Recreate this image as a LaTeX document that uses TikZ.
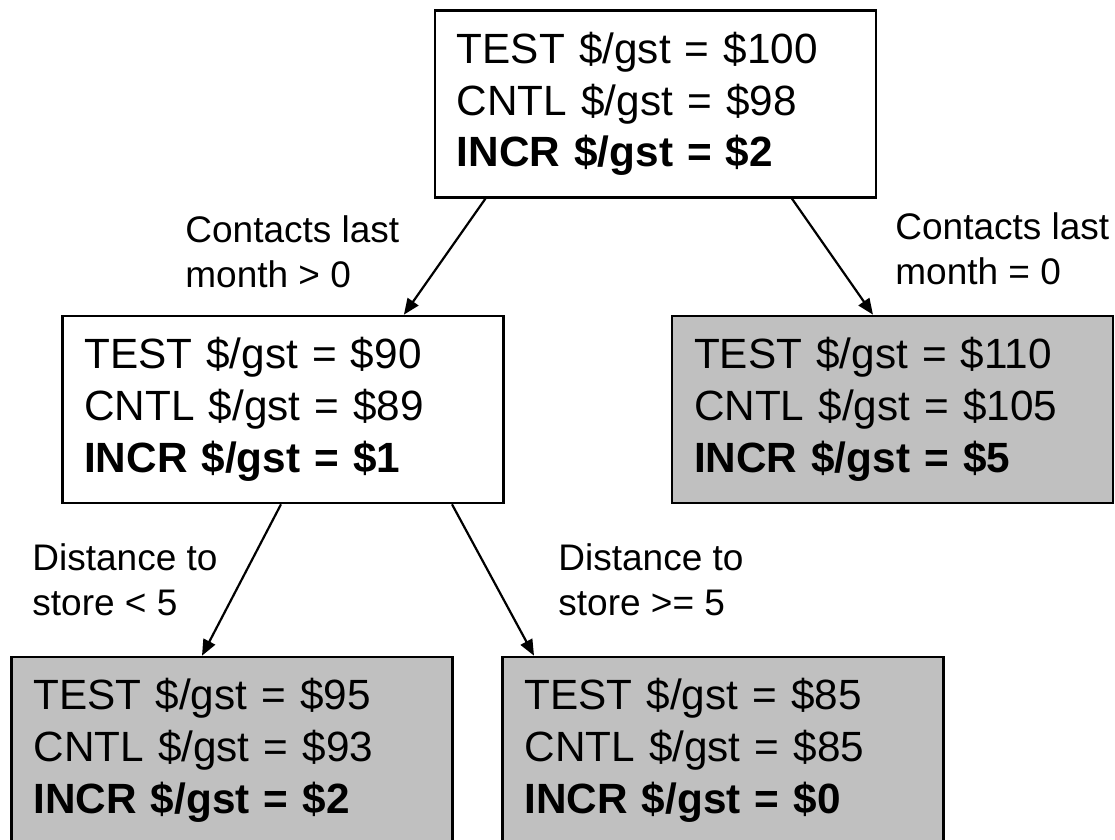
\documentclass[tikz,border=0pt]{standalone}
\usepackage{fontspec}
\setmainfont{Liberation Sans}
\usepackage{xcolor}
\usepackage{tikz}
\usetikzlibrary{arrows.meta,positioning,calc}
\definecolor{cInk}{HTML}{000000}
\definecolor{cLeaf}{HTML}{C0C0C0}
\tikzset{
  sbox/.style={draw=cInk,fill=#1,line width=1.3pt,minimum width=220.5pt,minimum height=93.5pt,text width=198.5pt,inner xsep=11pt,inner ysep=0pt,align=left,font=\fontsize{21.15}{25.85}\selectfont,text=cInk},
  sbox/.default=white,
  arr/.style={-{Triangle[length=8pt,width=6.5pt]},line width=1.1pt,color=cInk},
  lbl/.style={font=\fontsize{18.5}{22.5}\selectfont,align=left,anchor=base west,inner sep=0pt,text=cInk},
}

\begin{document}
\begin{tikzpicture}[x=0.5pt,y=-0.5pt]
    \useasboundingbox[fill=white] (0,0) rectangle (1115,840);
    \node[sbox] (root) at (655.4,103.9) {TEST \$/gst = \$100\\CNTL \$/gst = \$98\\\textbf{INCR \$/gst = \$2}};
    \node[sbox] (cpos) at (282.7,409.5) {TEST \$/gst = \$90\\CNTL \$/gst = \$89\\\textbf{INCR \$/gst = \$1}};
    \node[sbox=cLeaf] (czero) at (892.5,409.5) {TEST \$/gst = \$110\\CNTL \$/gst = \$105\\\textbf{INCR \$/gst = \$5}};
    \node[sbox=cLeaf] (dnear) at (232,750.5) {TEST \$/gst = \$95\\CNTL \$/gst = \$93\\\textbf{INCR \$/gst = \$2}};
    \node[sbox=cLeaf] (dfar) at (723,750.5) {TEST \$/gst = \$85\\CNTL \$/gst = \$85\\\textbf{INCR \$/gst = \$0}};
    % split labels
    \node[lbl] (lpos) at (185,287) {Contacts last\\month > 0};
    \node[lbl] (lzero) at (895,285) {Contacts last\\month = 0};
    \node[lbl] (lnear) at (32,615) {Distance to\\store < 5};
    \node[lbl] (lfar) at (558,615) {Distance to\\store >= 5};
    \draw[arr] ([xshift=-85pt]root.south) -- ([xshift=60.6pt]cpos.north);
    \draw[arr] ([xshift=68.3pt]root.south) -- ([xshift=-9.75pt]czero.north);
    \draw[arr] ([xshift=-0.85pt]cpos.south) -- ([xshift=-15pt]dnear.north);
    \draw[arr] ([xshift=84.65pt]cpos.south) -- ([xshift=-94.5pt]dfar.north);
\end{tikzpicture}
\end{document}
